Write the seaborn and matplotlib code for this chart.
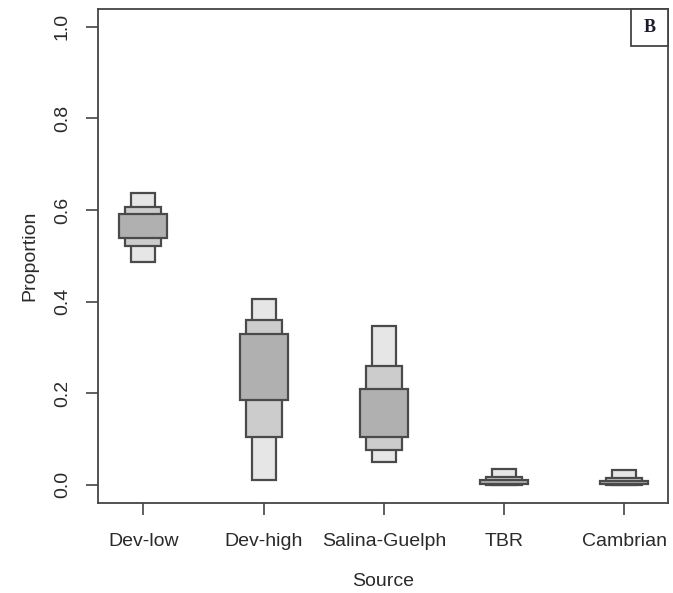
import matplotlib
matplotlib.use("Agg")
import matplotlib.pyplot as plt
from matplotlib.patches import Rectangle
import seaborn as sns

# ---- data (credible intervals of source proportions) ----
sources = ["Dev-low", "Dev-high", "Salina-Guelph", "TBR", "Cambrian"]
ci95_low = [0.487, 0.011, 0.049, 0.000, 0.000]
ci95_high = [0.638, 0.406, 0.346, 0.035, 0.032]
ci75_low = [0.522, 0.105, 0.076, 0.000, 0.000]
ci75_high = [0.607, 0.359, 0.259, 0.016, 0.015]
ci50_low = [0.538, 0.185, 0.105, 0.001, 0.001]
ci50_high = [0.591, 0.330, 0.208, 0.010, 0.009]
y_ticks = [0.0, 0.2, 0.4, 0.6, 0.8, 1.0]

sns.set_theme(style="white")
plt.rcParams["font.family"] = ["Liberation Sans", "DejaVu Sans"]

W, H = 673, 593
fig = plt.figure(figsize=(W / 100, H / 100), dpi=100)
left, right, top, bottom = 98, 668, 8.5, 503
ax = fig.add_axes([left / W, (H - bottom) / H, (right - left) / W, (bottom - top) / H])

edge = "#4a4a4a"
layers = [
    (ci95_low, ci95_high, 0.2, "#e6e6e6"),
    (ci75_low, ci75_high, 0.3, "#cccccc"),
    (ci50_low, ci50_high, 0.4, "#b0b0b0"),
]
for lo, hi, w, col in layers:
    heights = [h - l for l, h in zip(lo, hi)]
    sns.barplot(x=sources, y=heights, bottom=lo, width=w, color=col,
                edgecolor=edge, linewidth=1.6, errorbar=None, ax=ax,
                saturation=1)

ax.set_xlim(-0.378, 4.363)
ax.set_ylim(-0.04, 1.04)
ax.set_yticks(y_ticks)
ax.set_yticklabels([f"{t:.1f}" for t in y_ticks], rotation=90, va="center")

for s in ax.spines.values():
    s.set_visible(True)
    s.set_color("#444444")
    s.set_linewidth(1.3)

ax.tick_params(axis="both", which="major", length=8.5, width=1.2, color="#444444",
               labelsize=14, labelcolor="#2a2a2a", direction="out",
               left=True, bottom=True)
ax.tick_params(axis="x", pad=13)
ax.tick_params(axis="y", pad=11)
ax.set_xlabel("Source", fontsize=14, color="#2a2a2a", labelpad=17)
ax.set_ylabel("Proportion", fontsize=14, color="#2a2a2a", labelpad=11)

# panel label box
bw, bh = 37 / (right - left), 37 / (bottom - top)
ax.add_patch(Rectangle((1 - bw, 1 - bh), bw, bh, transform=ax.transAxes,
                       facecolor="white", edgecolor="#444444", linewidth=1.3,
                       clip_on=False, zorder=5))
ax.text(1 - bw / 2, 1 - bh / 2, "B", transform=ax.transAxes, ha="center",
        va="center", fontsize=13, fontweight="bold",
        family=["Liberation Serif", "DejaVu Serif"], color="#1a1a2a", zorder=6)

fig.savefig("out.png", dpi=100)
